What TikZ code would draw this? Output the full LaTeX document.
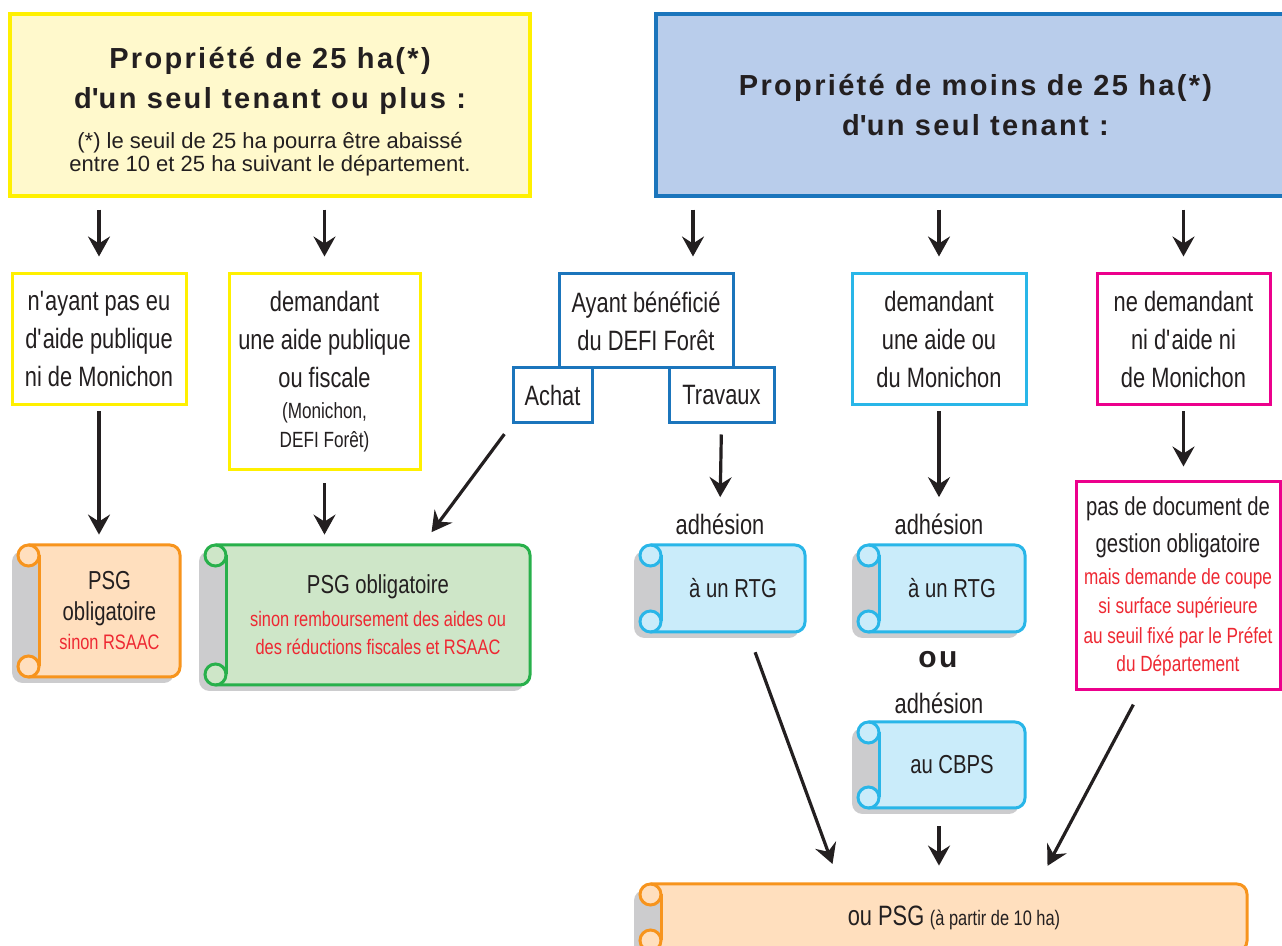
\documentclass[tikz,border=0pt]{standalone}
\usepackage{fontspec}
\setmainfont{Liberation Sans}
\newfontfamily\narrowfont[FakeStretch=0.78]{Liberation Sans}
\newfontfamily\titlefont[LetterSpace=8]{Liberation Sans}
\usetikzlibrary{arrows.meta,positioning,calc}
\definecolor{ink}{RGB}{35,31,32}
\definecolor{paleyellow}{RGB}{255,249,204}
\definecolor{boxyellow}{RGB}{255,240,0}
\definecolor{paleblue}{RGB}{185,205,235}
\definecolor{boxblue}{RGB}{27,117,188}
\definecolor{boxcyan}{RGB}{41,182,232}
\definecolor{scrollcyan}{RGB}{202,236,250}
\definecolor{boxmagenta}{RGB}{236,0,140}
\definecolor{scrollorange}{RGB}{255,223,190}
\definecolor{lineorange}{RGB}{247,148,29}
\definecolor{scrollgreen}{RGB}{206,230,200}
\definecolor{linegreen}{RGB}{40,176,75}
\definecolor{rednote}{RGB}{238,40,50}
\definecolor{scrollshade}{RGB}{204,204,206}

\newcommand\redline{\color{rednote}\fontsize{10.5}{14}\selectfont}
\newcommand\smallnote{\normalfont\fontsize{11}{12}\selectfont}
\newcommand\smallpar{\fontsize{11}{14}\selectfont}
\newcommand\ap{\textquotesingle}

% scroll: name, x0, y0, x1, y1, fill, line, text
\newcommand\scrollnode[8]{%
  \begin{scope}[shift={(-6,6)}]
    \fill[scrollshade, rounded corners=5pt] (#2+10.5,#3) -- (#4,#3) -- (#4,#5) -- (#2+10.5,#5);
    \fill[scrollshade] (#2,#3+10.5) rectangle (#2+10.5,#5-10.5);
    \fill[scrollshade] (#2+10.5,#3+10.5) circle[radius=10.5];
    \fill[scrollshade] (#2+10.5,#5-10.5) circle[radius=10.5];
  \end{scope}
  \fill[#6, rounded corners=5pt] (#2+21,#3) -- (#4,#3) -- (#4,#5) -- (#2+21,#5);
  \fill[#6] (#2+10.5,#3) rectangle (#2+21,#3+10.5);
  \fill[#6] (#2+10.5,#5-10.5) rectangle (#2+21,#5);
  \fill[#6] (#2+10.5,#3+10.5) circle[radius=10.5];
  \fill[#6] (#2+10.5,#5-10.5) circle[radius=10.5];
  \draw[#7, scrollline, rounded corners=5pt] (#2+10.5,#3) -- (#4,#3) -- (#4,#5) -- (#2+10.5,#5);
  \draw[#7, scrollline] (#2+21,#3+10.5) -- (#2+21,#5-10.5);
  \draw[#7, scrollline] (#2+10.5,#3+10.5) circle[radius=10.5];
  \draw[#7, scrollline] (#2+10.5,#5-10.5) circle[radius=10.5];
  \pgfmathsetmacro\scrollw{(#4-#2-21)*0.5}
  \pgfmathsetmacro\scrollh{(#5-#3)*0.5}
  \node[scrolltext, minimum width=\scrollw pt, minimum height=\scrollh pt]
    (#1) at ({(#2+21+#4)/2},{(#3+#5)/2}) {#8};
}

\begin{document}
\begin{tikzpicture}[
  x=0.5pt, y=-0.5pt,
  box/.style={draw, line width=1.5pt, fill=white, align=center, inner sep=2pt, text=ink,
    font=\narrowfont\fontsize{14}{19}\selectfont},
  topbox/.style={draw, line width=1.6pt, align=center, inner sep=2pt, text=ink,
    font=\titlefont\bfseries\fontsize{14.5}{20}\selectfont},
  plaintext/.style={inner sep=2pt, text=ink, font=\narrowfont\fontsize{14}{19}\selectfont},
  scrolltext/.style={inner sep=2pt, align=center, text=ink, font=\narrowfont\fontsize{13}{19}\selectfont},
  scrollline/.style={line width=1.5pt},
  flow/.style={-{Stealth[length=10pt,width=11pt,inset=3.5pt]}, line width=1.6pt, draw=ink,
    shorten <=6pt, shorten >=8pt}
]
\useasboundingbox (0,0) rectangle (1282,946);

% top boxes
\node[topbox, fill=paleyellow, draw=boxyellow, minimum width=260pt, minimum height=91pt] (top25) at (270,105)
  {\rule{0pt}{17pt}Propriété de 25 ha(*)\\d\ap un seul tenant ou plus :\\[0pt]
   {\smallnote (*) le seuil de 25 ha pourra être abaissé}\\[-8.5pt]
   {\smallnote entre 10 et 25 ha suivant le département.}};
\node[topbox, fill=paleblue, draw=boxblue, minimum width=319.5pt, minimum height=91pt] (topless) at (975.5,105)
  {Propriété de moins de 25 ha(*)\\d\ap un seul tenant :};

% second row
\node[box, draw=boxyellow, minimum width=87pt, minimum height=65.5pt] (sansaide) at (99,339.5)
  {n\ap ayant pas eu\\d\ap aide publique\\ni de Monichon};
\node[box, draw=boxyellow, minimum width=95.5pt, minimum height=98pt] (avecaide) at (324.5,372)
  {demandant\\une aide publique\\ou fiscale\\[-3.5pt]{\smallpar (Monichon,}\\[-4.5pt]{\smallpar DEFI Forêt)}};
\node[box, draw=boxblue, minimum width=87pt, minimum height=47pt] (defi) at (646,321)
  {Ayant bénéficié\\du DEFI Forêt};
\node[box, draw=boxblue, minimum width=39.5pt, minimum height=27.5pt] (achat) at (552.5,395.5) {Achat};
\node[box, draw=boxblue, minimum width=52.5pt, minimum height=27.5pt] (travaux) at (721.5,395.5) {Travaux};
\node[box, draw=boxcyan, minimum width=87pt, minimum height=65.5pt] (aideou) at (939,339.5)
  {demandant\\une aide ou\\du Monichon};
\node[box, draw=boxmagenta, minimum width=86.5pt, minimum height=65.5pt] (sansdemande) at (1183.5,339.5)
  {ne demandant\\ni d\ap aide ni\\de Monichon};

% third row
\scrollnode{psgA}{18}{545}{180}{677}{scrollorange}{lineorange}
  {PSG\\[-3.5pt]obligatoire\\[-4.5pt]{\redline sinon RSAAC}}
\scrollnode{psgB}{205}{545}{530}{685}{scrollgreen}{linegreen}
  {PSG obligatoire\\[-2.5pt]{\redline sinon remboursement des aides ou}\\[-5pt]{\redline des réductions fiscales et RSAAC}}
\node[plaintext] (adh1) at (720,524) {adhésion};
\node[plaintext] (adh2) at (939,524) {adhésion};
\scrollnode{rtgA}{640}{545}{805}{632}{scrollcyan}{boxcyan}{à un RTG}
\scrollnode{rtgB}{858}{545}{1025}{632}{scrollcyan}{boxcyan}{à un RTG}
\node[plaintext, font=\titlefont\bfseries\fontsize{15}{18}\selectfont] (ou) at (938,660) {ou};
\node[plaintext] (adh3) at (939,703) {adhésion};
\scrollnode{cbps}{858}{722}{1025}{808}{scrollcyan}{boxcyan}{au CBPS}
\node[box, draw=boxmagenta, font=\narrowfont\fontsize{13}{18.5}\selectfont, minimum width=102pt, minimum height=104pt] (nodoc) at (1178,586)
  {pas de document de\\gestion obligatoire\\[-2.5pt]
   {\redline\fontsize{11}{14}\selectfont mais demande de coupe}\\[-4pt]
   {\redline\fontsize{11}{14}\selectfont si surface supérieure}\\[-3.5pt]
   {\redline\fontsize{11}{14}\selectfont au seuil fixé par le Préfet}\\[-4.5pt]
   {\redline\fontsize{11}{14}\selectfont du Département}};

% bottom
\scrollnode{psgC}{640}{884}{1247}{951}{scrollorange}{lineorange}
  {{\fontsize{14}{19}\selectfont ou PSG} {\fontsize{10.5}{19}\selectfont (à partir de 10 ha)}}

% connectors
\coordinate (defiin) at ($(defi.north)+(47,0)$);
\coordinate (greenin) at (422,545);
\coordinate (rtgout) at (751,641);
\coordinate (psgin) at (838,879);
\coordinate (nodocout) at (1139,694);
\coordinate (psginr) at (1040,880);

\draw[flow] (sansaide.north |- top25.south) -- (sansaide.north);
\draw[flow] (avecaide.north |- top25.south) -- (avecaide.north);
\draw[flow] (defiin |- topless.south) -- (defiin);
\draw[flow] (aideou.north |- topless.south) -- (aideou.north);
\draw[flow] (sansdemande.north |- topless.south) -- (sansdemande.north);

\draw[flow, shorten <=2.5pt, shorten >=5pt] (sansaide.south) -- (sansaide.south |- psgA.north);
\draw[flow, shorten >=5pt] (avecaide.south) -- (avecaide.south |- psgB.north);
\draw[flow] (achat.south west) -- (greenin);
\draw[flow, shorten <=5pt, shorten >=6pt] (travaux.south) -- (adh1.north);
\draw[flow, shorten <=2.5pt, shorten >=6pt] (aideou.south) -- (adh2.north);
\draw[flow, shorten <=2.5pt, shorten >=7pt] (sansdemande.south) -- (sansdemande.south |- nodoc.north);

\draw[flow] (rtgout) -- (psgin);
\draw[flow, shorten <=9pt, shorten >=9pt] (adh3 |- cbps.south) -- (adh3 |- psgC.north);
\draw[flow] (nodocout) -- (psginr);

\end{tikzpicture}
\end{document}
